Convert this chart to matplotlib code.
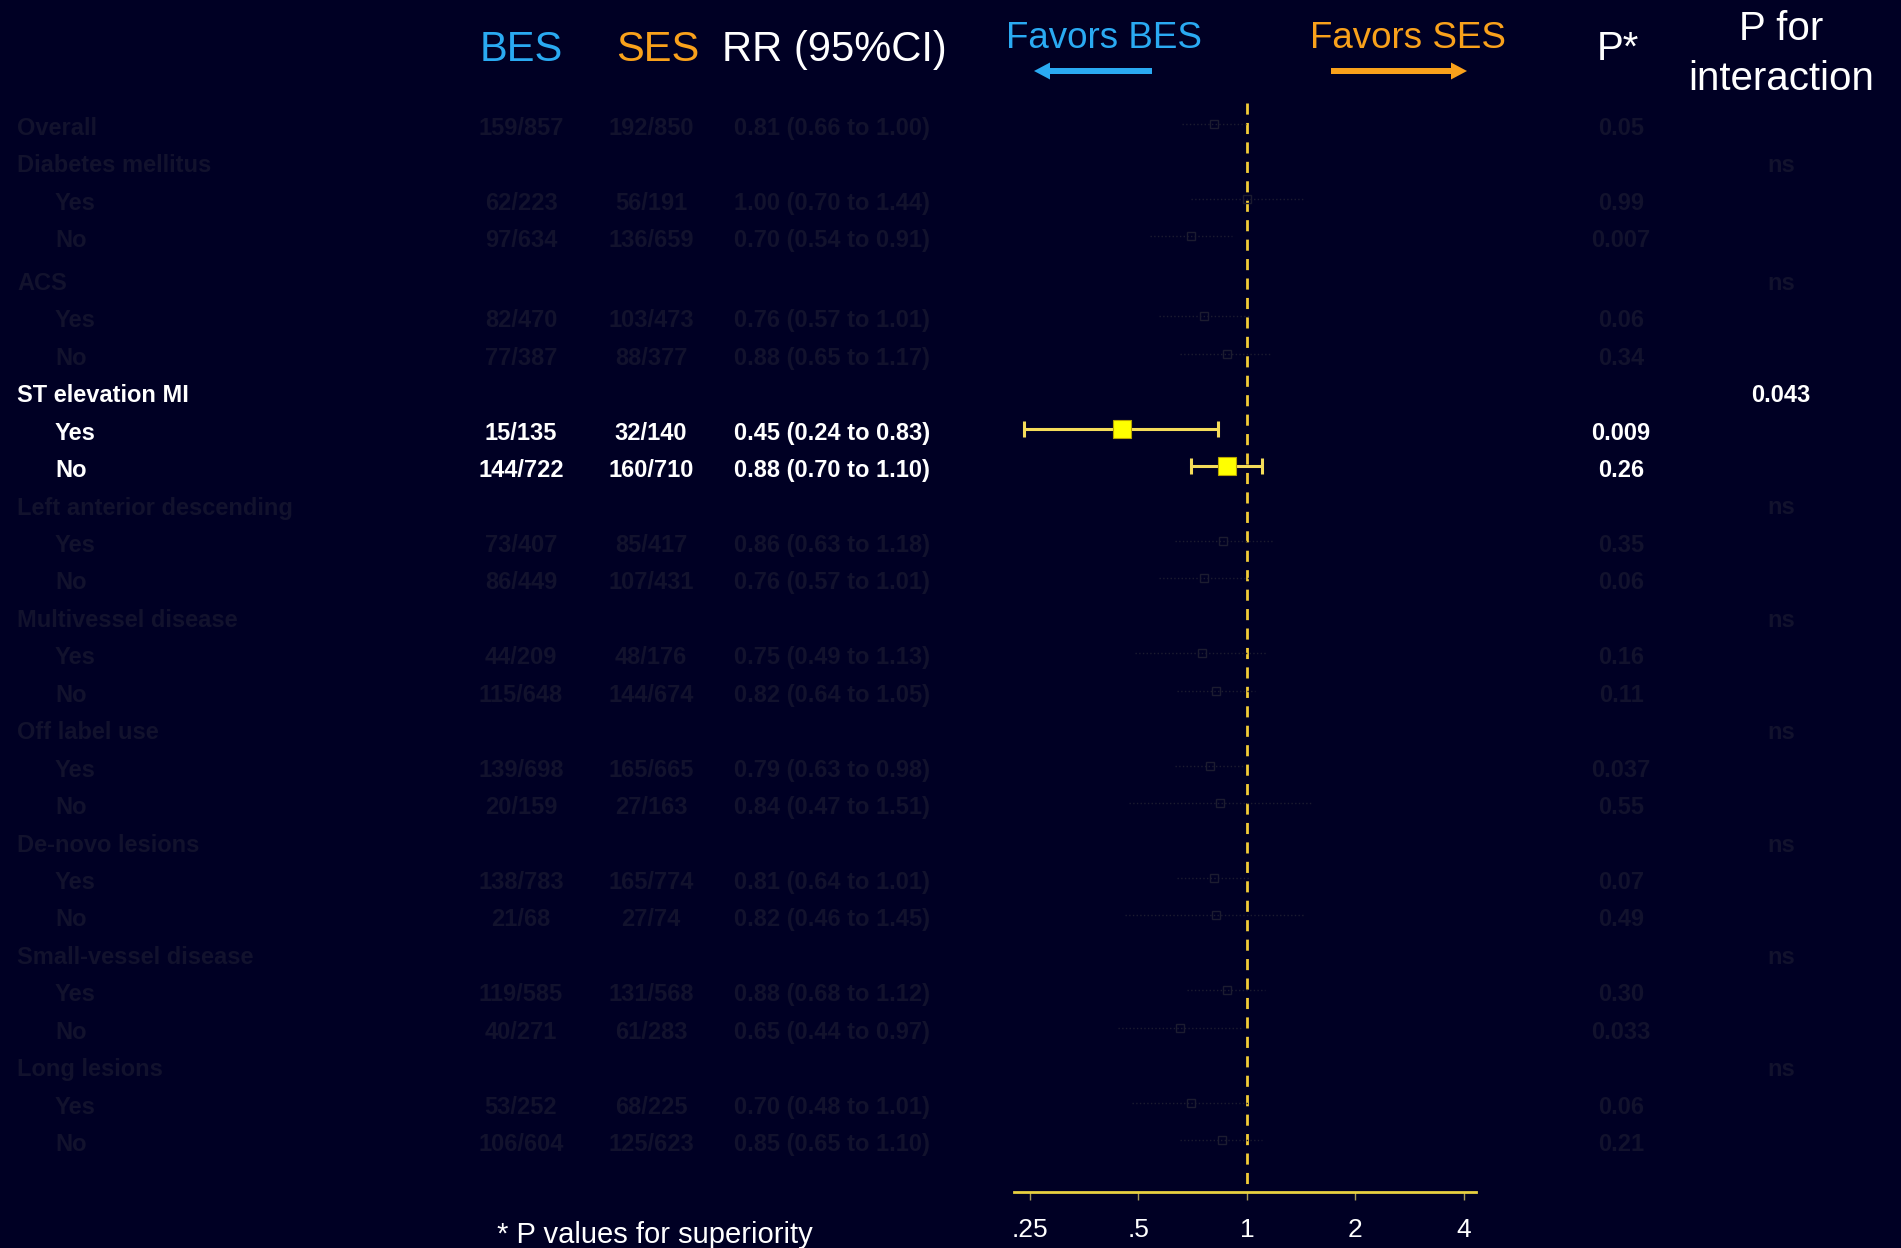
import numpy as np
import matplotlib.pyplot as plt

BG = "#000024"
FADE = "#12122d"
FADE_MARK = "#1c1c30"
BES_C = "#2aaaf2"
SES_C = "#f9a11b"
plt.rcParams["font.family"] = ["Liberation Sans", "DejaVu Sans"]

labels = ["Overall", "Diabetes mellitus", "Yes", "No", "ACS", "Yes", "No",
          "ST elevation MI", "Yes", "No", "Left anterior descending", "Yes", "No",
          "Multivessel disease", "Yes", "No", "Off label use", "Yes", "No",
          "De-novo lesions", "Yes", "No", "Small-vessel disease", "Yes", "No",
          "Long lesions", "Yes", "No"]
is_sub = [False, False, True, True, False, True, True,
          False, True, True, False, True, True,
          False, True, True, False, True, True,
          False, True, True, False, True, True,
          False, True, True]
bes_events = ["159/857", "", "62/223", "97/634", "", "82/470", "77/387",
              "", "15/135", "144/722", "", "73/407", "86/449",
              "", "44/209", "115/648", "", "139/698", "20/159",
              "", "138/783", "21/68", "", "119/585", "40/271",
              "", "53/252", "106/604"]
ses_events = ["192/850", "", "56/191", "136/659", "", "103/473", "88/377",
              "", "32/140", "160/710", "", "85/417", "107/431",
              "", "48/176", "144/674", "", "165/665", "27/163",
              "", "165/774", "27/74", "", "131/568", "61/283",
              "", "68/225", "125/623"]
nan = np.nan
rr = [0.81, nan, 1.00, 0.70, nan, 0.76, 0.88,
      nan, 0.45, 0.88, nan, 0.86, 0.76,
      nan, 0.75, 0.82, nan, 0.79, 0.84,
      nan, 0.81, 0.82, nan, 0.88, 0.65,
      nan, 0.70, 0.85]
ci_lo = [0.66, nan, 0.70, 0.54, nan, 0.57, 0.65,
         nan, 0.24, 0.70, nan, 0.63, 0.57,
         nan, 0.49, 0.64, nan, 0.63, 0.47,
         nan, 0.64, 0.46, nan, 0.68, 0.44,
         nan, 0.48, 0.65]
ci_hi = [1.00, nan, 1.44, 0.91, nan, 1.01, 1.17,
         nan, 0.83, 1.10, nan, 1.18, 1.01,
         nan, 1.13, 1.05, nan, 0.98, 1.51,
         nan, 1.01, 1.45, nan, 1.12, 0.97,
         nan, 1.01, 1.10]
p_sup = ["0.05", "", "0.99", "0.007", "", "0.06", "0.34",
         "", "0.009", "0.26", "", "0.35", "0.06",
         "", "0.16", "0.11", "", "0.037", "0.55",
         "", "0.07", "0.49", "", "0.30", "0.033",
         "", "0.06", "0.21"]
p_int = ["", "ns", "", "", "ns", "", "",
         "0.043", "", "", "ns", "", "",
         "ns", "", "", "ns", "", "",
         "ns", "", "", "ns", "", "",
         "ns", "", ""]
highlight = "ST elevation MI"
xticks = [0.25, 0.5, 1, 2, 4]
xtick_labels = [".25", ".5", "1", "2", "4"]

# which rows belong to the highlighted subgroup
hl = []
current = None
for lab, sub in zip(labels, is_sub):
    if not sub:
        current = lab
    hl.append(current == highlight)

W, H = 1901, 1248
fig = plt.figure(figsize=(W / 100, H / 100), dpi=100, facecolor=BG)

# full-figure axes in pixel units for the table text
at = fig.add_axes([0, 0, 1, 1])
at.set_xlim(0, W)
at.set_ylim(H, 0)
at.axis("off")
at.set_facecolor(BG)

n = len(labels)
idx = np.arange(n)
row_y = 124 + idx * 37.45 + np.where(idx >= 4, 5, 0)

for i in range(n):
    c = "white" if hl[i] else FADE
    y = row_y[i] + 11  # baseline sits a little below the marker centre
    kw = dict(color=c, fontsize=17, fontweight="bold", va="baseline")
    at.text(55 if is_sub[i] else 17, y, labels[i], ha="left", **kw)
    if bes_events[i]:
        at.text(521, y, bes_events[i], ha="center", **kw)
        at.text(651, y, ses_events[i], ha="center", **kw)
        at.text(832, y, f"{rr[i]:.2f} ({ci_lo[i]:.2f} to {ci_hi[i]:.2f})", ha="center", **kw)
    if p_sup[i]:
        at.text(1621, y, p_sup[i], ha="center", **kw)
    if p_int[i]:
        at.text(1781, y, p_int[i], ha="center", **kw)

# column headers
at.text(521, 61, "BES", color=BES_C, fontsize=30, ha="center", va="baseline")
at.text(658, 61, "SES", color=SES_C, fontsize=30, ha="center", va="baseline")
at.text(834, 61, "RR (95%CI)", color="white", fontsize=30, ha="center", va="baseline")
at.text(1104, 48, "Favors BES", color=BES_C, fontsize=26.5, ha="center", va="baseline")
at.text(1408, 48, "Favors SES", color=SES_C, fontsize=26.5, ha="center", va="baseline")
at.arrow(1152, 71, -118, 0, width=6, head_width=17, head_length=16,
         length_includes_head=True, color=BES_C, lw=0)
at.arrow(1331, 71, 136, 0, width=6, head_width=17, head_length=16,
         length_includes_head=True, color=SES_C, lw=0)
at.text(1618, 60, "P*", color="white", fontsize=29, ha="center", va="baseline")
at.text(1781, 40, "P for", color="white", fontsize=29, ha="center", va="baseline")
at.text(1781, 90, "interaction", color="white", fontsize=29, ha="center", va="baseline")
at.text(655, 1243, "* P values for superiority", color="white", fontsize=21,
        ha="center", va="baseline")

# forest plot axes, log2 scale
ax_top, ax_bot = 103, 1192
ax = fig.add_axes([1014 / W, 1 - ax_bot / H, (1476 - 1014) / W, (ax_bot - ax_top) / H])
ax.set_facecolor("none")
ax.set_xscale("log", base=2)
ax.set_xlim(0.2258, 4.32)
ax.set_ylim(ax_bot, ax_top)
for s in ["top", "left", "right"]:
    ax.spines[s].set_visible(False)
ax.spines["bottom"].set_color("#e8d040")
ax.spines["bottom"].set_linewidth(2)
ax.set_yticks([])
ax.set_xticks(xticks)
ax.set_xticklabels(xtick_labels)
ax.xaxis.set_minor_locator(plt.NullLocator())
ax.tick_params(axis="x", colors="#a89a58", length=6, width=1, pad=13,
               labelsize=19, labelcolor="white")

# no-effect line, dashes start at the top
ax.plot([1, 1], [ax_top, ax_bot], color="#f2cc38", lw=2, ls=(0, (4, 3)), zorder=1)

for i in range(n):
    if np.isnan(rr[i]):
        continue
    y = row_y[i]
    if hl[i]:
        ax.errorbar(rr[i], y, xerr=[[rr[i] - ci_lo[i]], [ci_hi[i] - rr[i]]],
                    fmt="none", ecolor="#f5dc5a", elinewidth=2.2, capsize=6,
                    capthick=2.2, zorder=3)
        ax.plot(rr[i], y, marker="s", ms=12.5, color="#ffff00",
                mec="#b8a400", mew=0.8, zorder=4)
    else:
        ax.plot([ci_lo[i], ci_hi[i]], [y, y], color=FADE_MARK, lw=1, ls=":", zorder=2)
        ax.plot(rr[i], y, marker="s", ms=6, mfc="none", mec=FADE_MARK, mew=1, zorder=2)

fig.savefig("out.png", dpi=100, facecolor=BG)
